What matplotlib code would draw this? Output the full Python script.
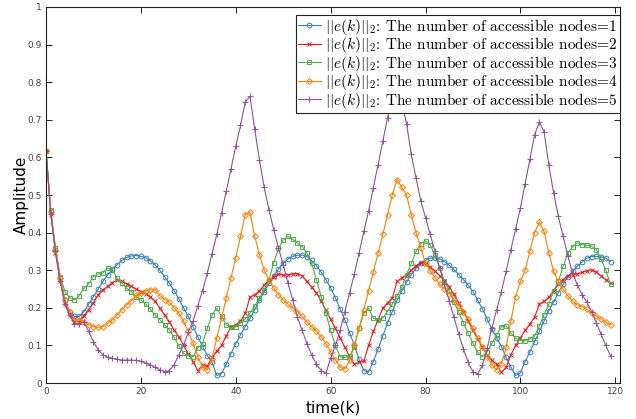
import matplotlib
matplotlib.use("Agg")
import matplotlib.pyplot as plt
import numpy as np

k = np.arange(120)

e_nodes1 = [
    0.617, 0.457, 0.355, 0.280, 0.221, 0.190, 0.177, 0.177, 0.190, 0.210,
    0.230, 0.250, 0.270, 0.288, 0.302, 0.315, 0.326, 0.334, 0.338, 0.339,
    0.337, 0.333, 0.325, 0.314, 0.300, 0.283, 0.265, 0.246, 0.224, 0.200,
    0.177, 0.150, 0.123, 0.097, 0.073, 0.055, 0.020, 0.025, 0.050, 0.078,
    0.105, 0.128, 0.150, 0.172, 0.195, 0.220, 0.243, 0.265, 0.285, 0.303,
    0.318, 0.330, 0.337, 0.340, 0.340, 0.336, 0.326, 0.312, 0.295, 0.275,
    0.253, 0.227, 0.197, 0.168, 0.134, 0.100, 0.063, 0.033, 0.029, 0.057,
    0.090, 0.125, 0.160, 0.190, 0.220, 0.245, 0.268, 0.288, 0.305, 0.318,
    0.327, 0.332, 0.333, 0.330, 0.323, 0.313, 0.302, 0.288, 0.275, 0.260,
    0.243, 0.220, 0.197, 0.170, 0.143, 0.120, 0.097, 0.068, 0.042, 0.020,
    0.027, 0.057, 0.083, 0.110, 0.137, 0.165, 0.192, 0.215, 0.240, 0.262,
    0.283, 0.297, 0.310, 0.322, 0.332, 0.336, 0.337, 0.336, 0.332, 0.323,
]
e_nodes2 = [
    0.617, 0.450, 0.345, 0.270, 0.210, 0.180, 0.163, 0.163, 0.179, 0.195,
    0.213, 0.235, 0.248, 0.257, 0.267, 0.274, 0.270, 0.264, 0.257, 0.250,
    0.243, 0.238, 0.230, 0.217, 0.199, 0.181, 0.163, 0.141, 0.123, 0.100,
    0.078, 0.057, 0.033, 0.047, 0.045, 0.068, 0.085, 0.100, 0.125, 0.150,
    0.155, 0.165, 0.185, 0.228, 0.235, 0.245, 0.260, 0.273, 0.282, 0.290,
    0.287, 0.288, 0.290, 0.291, 0.285, 0.270, 0.255, 0.240, 0.218, 0.193,
    0.170, 0.145, 0.120, 0.095, 0.070, 0.050, 0.055, 0.058, 0.100, 0.137,
    0.168, 0.199, 0.213, 0.226, 0.270, 0.279, 0.288, 0.300, 0.312, 0.320,
    0.316, 0.308, 0.298, 0.285, 0.272, 0.256, 0.236, 0.213, 0.190, 0.165,
    0.140, 0.117, 0.095, 0.075, 0.060, 0.050, 0.028, 0.042, 0.075, 0.100,
    0.120, 0.140, 0.157, 0.175, 0.210, 0.217, 0.228, 0.245, 0.262, 0.275,
    0.285, 0.288, 0.290, 0.294, 0.298, 0.301, 0.295, 0.285, 0.275, 0.265,
]
e_nodes3 = [
    0.617, 0.461, 0.359, 0.283, 0.243, 0.226, 0.221, 0.232, 0.252, 0.264,
    0.283, 0.290, 0.293, 0.306, 0.300, 0.278, 0.266, 0.252, 0.243, 0.230,
    0.221, 0.210, 0.196, 0.181, 0.168, 0.155, 0.141, 0.122, 0.099, 0.079,
    0.072, 0.070, 0.093, 0.105, 0.146, 0.181, 0.199, 0.178, 0.155, 0.148,
    0.150, 0.160, 0.170, 0.186, 0.205, 0.226, 0.248, 0.275, 0.320, 0.358,
    0.380, 0.390, 0.382, 0.372, 0.363, 0.346, 0.318, 0.275, 0.230, 0.185,
    0.140, 0.100, 0.070, 0.068, 0.072, 0.097, 0.145, 0.186, 0.199, 0.172,
    0.168, 0.173, 0.190, 0.210, 0.232, 0.255, 0.288, 0.318, 0.350, 0.371,
    0.378, 0.367, 0.340, 0.306, 0.272, 0.245, 0.215, 0.188, 0.159, 0.132,
    0.106, 0.082, 0.070, 0.083, 0.106, 0.128, 0.150, 0.152, 0.132, 0.119,
    0.113, 0.113, 0.117, 0.125, 0.152, 0.182, 0.210, 0.245, 0.270, 0.310,
    0.345, 0.362, 0.373, 0.368, 0.366, 0.364, 0.355, 0.330, 0.300, 0.262,
]
e_nodes4 = [
    0.617, 0.455, 0.355, 0.280, 0.220, 0.190, 0.168, 0.168, 0.163, 0.155,
    0.150, 0.148, 0.150, 0.159, 0.168, 0.181, 0.195, 0.208, 0.219, 0.233,
    0.240, 0.245, 0.248, 0.248, 0.232, 0.222, 0.215, 0.200, 0.186, 0.165,
    0.137, 0.106, 0.070, 0.042, 0.035, 0.065, 0.120, 0.172, 0.226, 0.280,
    0.333, 0.390, 0.448, 0.455, 0.390, 0.341, 0.300, 0.275, 0.252, 0.235,
    0.221, 0.210, 0.200, 0.190, 0.177, 0.163, 0.150, 0.138, 0.123, 0.105,
    0.083, 0.062, 0.042, 0.037, 0.060, 0.100, 0.146, 0.195, 0.245, 0.295,
    0.345, 0.395, 0.448, 0.500, 0.541, 0.520, 0.500, 0.448, 0.400, 0.360,
    0.318, 0.298, 0.280, 0.262, 0.250, 0.238, 0.222, 0.205, 0.190, 0.170,
    0.146, 0.120, 0.097, 0.070, 0.048, 0.035, 0.050, 0.095, 0.165, 0.230,
    0.270, 0.300, 0.350, 0.400, 0.428, 0.403, 0.346, 0.297, 0.270, 0.250,
    0.232, 0.218, 0.208, 0.203, 0.196, 0.187, 0.178, 0.170, 0.162, 0.155,
]
e_nodes5 = [
    0.617, 0.450, 0.350, 0.270, 0.210, 0.180, 0.158, 0.157, 0.163, 0.137,
    0.110, 0.088, 0.075, 0.068, 0.066, 0.063, 0.061, 0.061, 0.061, 0.060,
    0.058, 0.053, 0.048, 0.042, 0.035, 0.030, 0.033, 0.048, 0.075, 0.100,
    0.135, 0.165, 0.205, 0.246, 0.292, 0.344, 0.395, 0.452, 0.510, 0.570,
    0.630, 0.685, 0.747, 0.762, 0.675, 0.593, 0.520, 0.461, 0.408, 0.359,
    0.315, 0.266, 0.221, 0.175, 0.140, 0.105, 0.075, 0.050, 0.033, 0.026,
    0.066, 0.100, 0.140, 0.190, 0.240, 0.290, 0.346, 0.403, 0.457, 0.519,
    0.581, 0.643, 0.706, 0.760, 0.790, 0.745, 0.690, 0.608, 0.545, 0.485,
    0.440, 0.395, 0.350, 0.305, 0.262, 0.218, 0.175, 0.130, 0.090, 0.055,
    0.030, 0.024, 0.048, 0.092, 0.146, 0.195, 0.243, 0.297, 0.355, 0.410,
    0.465, 0.530, 0.595, 0.660, 0.694, 0.668, 0.579, 0.506, 0.443, 0.390,
    0.339, 0.292, 0.261, 0.235, 0.215, 0.190, 0.160, 0.130, 0.100, 0.072,
]

series = [e_nodes1, e_nodes2, e_nodes3, e_nodes4, e_nodes5]
colors = ["#377eb8", "#e41a1c", "#4daf4a", "#ff7f00", "#984ea3"]
markers = ["o", "x", "s", "D", "+"]
msizes = [3.4, 3.2, 3.2, 3.0, 4.6]
labels = [r"$||e(k)||_2$: The number of accessible nodes=%d" % (i + 1) for i in range(5)]

plt.rcParams["mathtext.fontset"] = "cm"

fig = plt.figure(figsize=(6.36, 4.19), dpi=100)
ax = fig.add_axes([46 / 636, 36 / 419, 574 / 636, 376 / 419])

for y, c, m, ms, lab in zip(series, colors, markers, msizes, labels):
    ax.plot(k, y, color=c, lw=0.8, marker=m, ms=ms, mfc="none", mec=c,
            mew=0.7, label=lab)

ax.set_xlim(0, 121)
ax.set_ylim(0, 1)
ax.set_xticks(np.arange(0, 121, 20))
ax.set_yticks(np.arange(0, 1.01, 0.1))
ax.set_yticklabels(["0", "0.1", "0.2", "0.3", "0.4", "0.5", "0.6", "0.7", "0.8", "0.9", "1"])
ax.tick_params(direction="in", top=True, right=True, length=4, width=0.6,
               labelsize=6.5, labelcolor="#444444", pad=3)
for s in ax.spines.values():
    s.set_linewidth(0.8)
    s.set_color("#222222")

ax.set_xlabel("time(k)", fontsize=11, labelpad=3)
ax.set_ylabel("Amplitude", fontsize=11, labelpad=-1)

leg = ax.legend(loc="upper right", bbox_to_anchor=(1.0, 0.98),
                prop={"family": "cmr10", "size": 11}, handlelength=1.5,
                handletextpad=0.3, labelspacing=-0.1, borderpad=0.15,
                borderaxespad=0.0, fancybox=False, framealpha=1)
leg.get_frame().set_edgecolor("#222222")
leg.get_frame().set_linewidth(0.8)

fig.savefig("out.png", dpi=100)
